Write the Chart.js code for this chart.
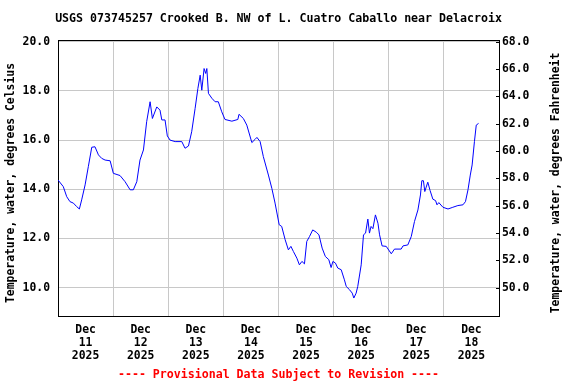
<!DOCTYPE html>
<html>
<head>
<meta charset="utf-8">
<script src="https://cdn.jsdelivr.net/npm/chart.js@4"></script>
<style>
  body { margin: 0; background: #fff; }
</style>
</head>
<body>
<canvas id="chart" width="576" height="384"></canvas>
<script>
// readings, hours after Dec 11 00:00 and water temperature in deg C
const hours = [
  0, 2.3, 3.8, 5.2, 6.7, 8.1, 9.3, 10.3, 11.8, 13.2, 14.7, 16.1, 17.6, 19.0, 20.5, 22.7,
  24.1, 27.0, 29.2, 31.4, 32.8, 34.3, 35.7, 37.2, 38.6, 40.1, 41.1, 43.0, 44.4, 45.2, 46.6, 47.6,
  48.8, 51.0, 53.9, 55.3, 56.8, 58.2, 59.7, 60.9, 61.9, 62.6, 63.6, 64.3, 64.8, 65.5, 67.0, 68.4,
  69.8, 71.3, 72.7, 75.7, 78.3, 78.8, 80.7, 82.2, 84.4, 85.8, 86.6, 88.0, 89.4, 91.6, 93.1, 94.5,
  96.3, 97.4, 98.9, 100.3, 101.4, 102.5, 104.0, 105.1, 106.2, 107.3, 108.3, 109.5, 110.9, 112.4, 113.6, 115.0,
  116.4, 117.9, 118.9, 119.7, 120.8, 121.8, 123.3, 124.7, 125.5, 126.9, 128.1, 128.8, 129.8, 130.5, 132.0, 133.0,
  133.9, 134.9, 135.6, 136.3, 137.1, 138.2, 139.3, 140.0, 141.1, 142.9, 145.1, 146.5, 149.4, 150.2, 152.3, 153.8,
  155.2, 156.7, 157.8, 158.4, 159.1, 159.7, 160.3, 161.0, 162.0, 163.2, 164.4, 165.0, 165.8, 167.6, 169.8, 171.9,
  174.1, 176.3, 177.4, 178.5, 179.5, 180.3, 181.3, 182.1, 183.1
];
const tempC = [
  14.38, 14.11, 13.70, 13.50, 13.44, 13.30, 13.20, 13.57, 14.18, 14.92, 15.71, 15.73, 15.40, 15.26, 15.19, 15.16,
  14.65, 14.56, 14.31, 13.98, 13.98, 14.31, 15.19, 15.60, 16.75, 17.56, 16.88, 17.35, 17.22, 16.82, 16.82, 16.17,
  16.00, 15.94, 15.94, 15.67, 15.76, 16.34, 17.29, 18.10, 18.64, 18.03, 18.91, 18.71, 18.91, 17.90, 17.70, 17.56,
  17.56, 17.15, 16.84, 16.77, 16.84, 17.05, 16.88, 16.61, 15.90, 16.03, 16.11, 15.94, 15.33, 14.58, 14.04, 13.44,
  12.56, 12.49, 11.95, 11.54, 11.68, 11.47, 11.20, 10.93, 11.07, 10.97, 11.88, 12.08, 12.35, 12.26, 12.15, 11.61,
  11.27, 11.14, 10.82, 11.07, 11.00, 10.80, 10.73, 10.32, 10.05, 9.92, 9.78, 9.58, 9.78, 10.05, 10.93, 12.15,
  12.22, 12.79, 12.22, 12.49, 12.40, 12.96, 12.62, 12.15, 11.70, 11.68, 11.38, 11.57, 11.57, 11.70, 11.74, 12.08,
  12.69, 13.16, 13.77, 14.35, 14.35, 13.91, 14.09, 14.29, 13.95, 13.60, 13.54, 13.37, 13.46, 13.27, 13.20, 13.27,
  13.34, 13.37, 13.50, 13.98, 14.58, 14.99, 15.94, 16.61, 16.68
];

const dayLabels = ['11', '12', '13', '14', '15', '16', '17', '18'];
const monthLabel = 'Dec';
const yearLabel = '2025';
const celsiusTicks = [10, 12, 14, 16, 18, 20];
const fahrenheitTicks = [50, 52, 54, 56, 58, 60, 62, 64, 66, 68];

const titleText = 'USGS 073745257 Crooked B. NW of L. Cuatro Caballo near Delacroix';
const footerText = '---- Provisional Data Subject to Revision ----';

const minC = 8.85, maxC = 20.05;
const toF = c => c * 9 / 5 + 32;
const FONT = 'DejaVu Sans Mono';
const grey = '#c8c8c8';

const noonTicks = dayLabels.map((_, i) => i * 24 + 12);
const midnightTicks = dayLabels.slice(1).map((_, i) => (i + 1) * 24);

// title and footer centred over the plot, right axis ticks point inward,
// both axis titles read upward
const extras = {
  id: 'extras',
  afterDraw(chart) {
    const { ctx, chartArea } = chart;
    const s = chart.scales.y2;
    const midX = (chartArea.left + chartArea.right) / 2;
    ctx.save();
    ctx.strokeStyle = '#000';
    ctx.lineWidth = 1;
    ctx.beginPath();
    s.ticks.forEach(t => {
      const y = Math.round(s.getPixelForValue(t.value)) + 0.5;
      ctx.moveTo(chartArea.right - 3, y);
      ctx.lineTo(chartArea.right, y);
    });
    ctx.stroke();

    ctx.textAlign = 'center';
    ctx.textBaseline = 'middle';
    ctx.font = 'bold 11.6px "' + FONT + '"';
    ctx.fillStyle = '#000';
    ctx.fillText(titleText, midX, 19);
    ctx.fillStyle = '#ff0000';
    ctx.fillText(footerText, midX, 375);

    ctx.fillStyle = '#000';
    ctx.font = 'bold 11.4px "' + FONT + '"';
    [[11, 'Temperature, water, degrees Celsius'], [556, 'Temperature, water, degrees Fahrenheit']].forEach(([x, txt]) => {
      ctx.save();
      ctx.translate(x, 183);
      ctx.rotate(-Math.PI / 2);
      ctx.fillText(txt, 0, 0);
      ctx.restore();
    });
    ctx.restore();
  }
};

new Chart(document.getElementById('chart').getContext('2d'), {
  type: 'line',
  data: {
    datasets: [{
      data: hours.map((h, i) => ({ x: h, y: tempC[i] })),
      borderColor: '#0000ff',
      borderWidth: 1,
      pointRadius: 0,
      tension: 0,
      fill: false
    }]
  },
  options: {
    responsive: false,
    animation: false,
    layout: { padding: { top: 40.5, bottom: 15.7, left: 0, right: 0 } },
    plugins: {
      legend: { display: false },
      tooltip: { enabled: false }
    },
    scales: {
      x: {
        type: 'linear',
        position: 'bottom',
        min: 0,
        max: 192,
        afterBuildTicks: s => { s.ticks = noonTicks.map(v => ({ value: v })); },
        afterFit: s => { s.height = 52.3; },
        grid: { drawOnChartArea: false, drawTicks: false },
        border: { display: true, color: '#000', width: 1 },
        ticks: {
          color: '#000',
          padding: 7.5,
          maxRotation: 0,
          autoSkip: false,
          font: { family: FONT, size: 11.4, weight: 'bold', lineHeight: 1.14 },
          callback: (v, i) => [monthLabel, dayLabels[i], yearLabel]
        }
      },
      x2: {
        type: 'linear',
        position: 'top',
        min: 0,
        max: 192,
        afterBuildTicks: s => { s.ticks = midnightTicks.map(v => ({ value: v })); },
        afterFit: s => { s.height = 0; },
        grid: { color: grey, drawTicks: false },
        border: { display: true, color: '#000', width: 1 },
        ticks: { display: false }
      },
      y: {
        position: 'left',
        min: minC,
        max: maxC,
        afterBuildTicks: s => { s.ticks = celsiusTicks.map(v => ({ value: v })); },
        afterFit: s => { s.width = 58; },
        grid: { color: grey, drawTicks: false },
        border: { display: true, color: '#000', width: 1 },
        ticks: {
          color: '#000',
          padding: 8,
          font: { family: FONT, size: 11.4, weight: 'bold' },
          callback: v => v.toFixed(1)
        }
      },
      y2: {
        position: 'right',
        min: toF(minC),
        max: toF(maxC),
        afterBuildTicks: s => { s.ticks = fahrenheitTicks.map(v => ({ value: v })); },
        afterFit: s => { s.width = 77; },
        grid: { drawOnChartArea: false, drawTicks: false },
        border: { display: true, color: '#000', width: 1 },
        ticks: {
          color: '#000',
          padding: 3,
          font: { family: FONT, size: 11.4, weight: 'bold' },
          callback: v => v.toFixed(1)
        }
      }
    }
  },
  plugins: [extras]
});
</script>
</body>
</html>
